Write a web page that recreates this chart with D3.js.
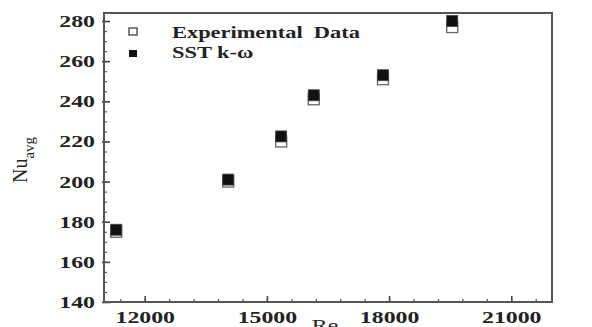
<!DOCTYPE html>
<html>
<head>
<meta charset="utf-8">
<script src="https://cdn.jsdelivr.net/npm/d3@7"></script>
<style>
  body { margin: 0; background: #fff; }
  svg { display: block; }
  text { font-family: "Liberation Serif", "DejaVu Serif", serif; fill: #222; }
</style>
</head>
<body>
<svg id="chart" width="592" height="327"></svg>
<script>
// values
var reynolds = [ 11300, 14050, 15350, 16150, 17850, 19550 ];
var nuExperimental = [ 175, 200, 220, 241, 251, 277 ];
var nuSST = [ 176, 201, 222.5, 243, 253, 280 ];
var seriesNames = [ 'Experimental  Data', 'SST k-\u03c9' ];
var xTicks = [ 12000, 15000, 18000, 21000 ];
var yTicks = [ 140, 160, 180, 200, 220, 240, 260, 280 ];

var STRETCH = 1.4; // the reference is squashed wide

var svg = d3.select( '#chart' );
var plotL = 104, plotR = 552, plotT = 13, plotB = 302;

var x = d3.scaleLinear().domain( [ 11000, 22000 ] ).range( [ plotL, plotR ] );
var y = d3.scaleLinear().domain( [ 140, 284 ] ).range( [ plotB, plotT ] );

function stretch( sel ) {
    sel.each( function() {
        var w = this.getComputedTextLength();
        d3.select( this )
            .attr( 'textLength', w * STRETCH )
            .attr( 'lengthAdjust', 'spacingAndGlyphs' );
    });
}

// minor ticks
svg.append( 'g' )
    .attr( 'transform', 'translate(0,' + plotB + ')' )
    .call( d3.axisBottom( x ).tickValues( d3.range( 11400, 22000, 600 ) )
        .tickSizeInner( -3 ).tickSizeOuter( 0 ).tickFormat( '' ) )
    .call( function( g ) { g.select( '.domain' ).remove(); } )
    .selectAll( 'line' ).attr( 'stroke', '#555' ).attr( 'stroke-width', 1.2 );

svg.append( 'g' )
    .attr( 'transform', 'translate(' + plotL + ',0)' )
    .call( d3.axisLeft( y ).tickValues( d3.range( 145, 284, 5 ) )
        .tickSizeInner( -3 ).tickSizeOuter( 0 ).tickFormat( '' ) )
    .call( function( g ) { g.select( '.domain' ).remove(); } )
    .selectAll( 'line' ).attr( 'stroke', '#555' ).attr( 'stroke-width', 1.2 );

// major ticks
var xAxis = svg.append( 'g' )
    .attr( 'transform', 'translate(0,' + plotB + ')' )
    .call( d3.axisBottom( x ).tickValues( xTicks )
        .tickSizeInner( -6 ).tickSizeOuter( 0 ).tickPadding( 9 ).tickFormat( d3.format( 'd' ) ) );
xAxis.select( '.domain' ).remove();
xAxis.selectAll( 'line' ).attr( 'stroke', '#444' ).attr( 'stroke-width', 1.6 );
xAxis.selectAll( 'text' ).style( 'font-size', '17px' ).style( 'font-weight', 'bold' ).call( stretch );

var yAxis = svg.append( 'g' )
    .attr( 'transform', 'translate(' + plotL + ',0)' )
    .call( d3.axisLeft( y ).tickValues( yTicks )
        .tickSizeInner( -6 ).tickSizeOuter( 0 ).tickPadding( 9 ) );
yAxis.select( '.domain' ).remove();
yAxis.selectAll( 'line' ).attr( 'x1', -2 ).attr( 'stroke', '#444' ).attr( 'stroke-width', 1.6 );
yAxis.selectAll( 'text' ).style( 'font-size', '17px' ).style( 'font-weight', 'bold' ).call( stretch );

// frame
svg.append( 'rect' )
    .attr( 'x', plotL ).attr( 'y', plotT )
    .attr( 'width', plotR - plotL ).attr( 'height', plotB - plotT )
    .attr( 'fill', 'none' ).attr( 'stroke', '#555' ).attr( 'stroke-width', 2 );

// data
var pts = reynolds.map( function( r, i ) {
    return { re: r, exp: nuExperimental[ i ], sst: nuSST[ i ] };
});
var size = 11;

svg.append( 'g' ).selectAll( 'rect' ).data( pts ).enter().append( 'rect' )
    .attr( 'x', function( d ) { return x( d.re ) - size / 2; } )
    .attr( 'y', function( d ) { return y( d.exp ) - size / 2; } )
    .attr( 'width', size ).attr( 'height', size )
    .attr( 'fill', '#fff' ).attr( 'stroke', '#666' ).attr( 'stroke-width', 1.3 );

svg.append( 'g' ).selectAll( 'rect' ).data( pts ).enter().append( 'rect' )
    .attr( 'x', function( d ) { return x( d.re ) - size / 2; } )
    .attr( 'y', function( d ) { return y( d.sst ) - size / 2; } )
    .attr( 'width', size ).attr( 'height', size )
    .attr( 'fill', '#111' ).attr( 'stroke', '#444' ).attr( 'stroke-width', 0.8 );

// legend
var legend = svg.append( 'g' );
legend.append( 'rect' )
    .attr( 'x', 129 ).attr( 'y', 28 ).attr( 'width', 8 ).attr( 'height', 7 )
    .attr( 'fill', '#fff' ).attr( 'stroke', '#555' ).attr( 'stroke-width', 1.5 );
legend.append( 'rect' )
    .attr( 'x', 129 ).attr( 'y', 50 ).attr( 'width', 8 ).attr( 'height', 7 )
    .attr( 'fill', '#111' );
legend.selectAll( 'text' ).data( seriesNames ).enter().append( 'text' )
    .attr( 'x', 172 )
    .attr( 'y', function( d, i ) { return 38 + i * 20; } )
    .style( 'font-size', '16px' ).style( 'font-weight', 'bold' )
    .style( 'white-space', 'pre' )
    .text( function( d ) { return d; } )
    .call( stretch );

// axis titles
var yl = svg.append( 'text' )
    .attr( 'transform', 'translate(27,183) rotate(-90)' )
    .style( 'font-size', '20px' );
yl.append( 'tspan' ).text( 'Nu' );
yl.append( 'tspan' ).attr( 'dy', 7 ).style( 'font-size', '15px' ).text( 'avg' );

svg.append( 'text' )
    .attr( 'x', 325 ).attr( 'y', 331 )
    .attr( 'text-anchor', 'middle' )
    .style( 'font-size', '17px' )
    .text( 'Re' )
    .call( stretch );
</script>
</body>
</html>
